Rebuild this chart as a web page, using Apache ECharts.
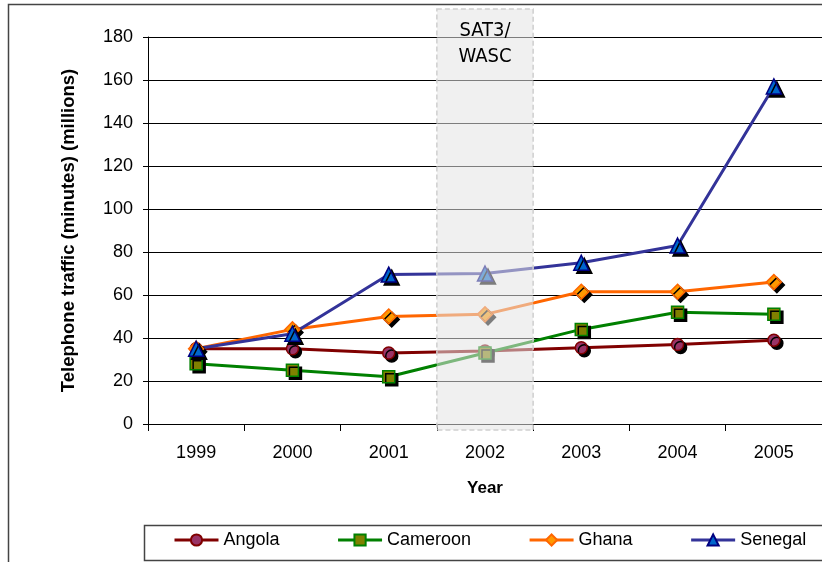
<!DOCTYPE html>
<html>
<head>
<meta charset="utf-8">
<script src="https://cdn.jsdelivr.net/npm/echarts@6/dist/echarts.min.js"></script>
<style>
  html, body { margin: 0; padding: 0; background: #fff; }
  #chart { width: 822px; height: 562px; }
</style>
</head>
<body>
<div id="chart"></div>
<script>
const years = ['1999', '2000', '2001', '2002', '2003', '2004', '2005']
const angola = [35, 35, 33, 34, 35.5, 37, 39]
const cameroon = [28, 25, 22, 33, 44, 52, 51]
const ghana = [35, 44, 50, 51, 61.5, 61.5, 66]
const senegal = [35, 42, 69.5, 70, 75, 83, 157]
const yTicks = { min: 0, max: 180, interval: 20 }
const bandYear = '2002'
const bandLabel = 'SAT3/\nWASC'

const font = "'Liberation Sans', Arial, sans-serif"
const markShadow = { shadowColor: '#000', shadowOffsetX: 3, shadowOffsetY: 3, shadowBlur: 0 }

const makeSeries = (name, data, symbol, size, lineColor, fill, border) => ({
  name,
  type: 'line',
  data,
  symbol,
  symbolSize: size,
  z: 3,
  lineStyle: { color: lineColor, width: 3 },
  itemStyle: { color: fill, borderColor: border, borderWidth: 1.5, ...markShadow },
  emphasis: { disabled: true }
})

const chart = echarts.init(document.getElementById('chart'))
chart.setOption({
  animation: false,
  backgroundColor: '#fff',
  graphic: [{
    // outer frame
    type: 'rect',
    z: -10,
    shape: { x: 8.5, y: 4.5, width: 900, height: 700 },
    style: { fill: 'none', stroke: '#444', lineWidth: 1.5 }
  }, {
    // legend box
    type: 'rect',
    z: -5,
    shape: { x: 144.5, y: 525.5, width: 700, height: 35 },
    style: { fill: '#fff', stroke: '#444', lineWidth: 1.5 }
  }],
  grid: { left: 148, right: -2, top: 37, bottom: 138 },
  legend: {
    data: ['Angola', 'Cameroon', 'Ghana', 'Senegal'],
    left: 173,
    top: 531,
    padding: 0,
    itemGap: 57,
    itemWidth: 44,
    itemHeight: 14,
    lineStyle: { width: 3 },
    itemStyle: { shadowColor: 'transparent' },
    textStyle: { fontFamily: font, fontSize: 18, color: '#000' }
  },
  xAxis: {
    type: 'category',
    data: years,
    boundaryGap: true,
    name: 'Year',
    nameLocation: 'middle',
    nameGap: 56,
    nameTextStyle: { fontFamily: font, fontSize: 17, fontWeight: 'bold', color: '#000' },
    axisLine: { lineStyle: { color: '#000', width: 1 } },
    axisTick: { show: true, length: 7, lineStyle: { color: '#000' } },
    axisLabel: { fontFamily: font, fontSize: 18, color: '#000', margin: 20 },
    splitLine: { show: false }
  },
  yAxis: {
    type: 'value',
    min: yTicks.min,
    max: yTicks.max,
    interval: yTicks.interval,
    name: 'Telephone traffic (minutes) (millions)',
    nameLocation: 'middle',
    nameGap: 70,
    nameTextStyle: { fontFamily: font, fontSize: 18.5, fontWeight: 'bold', color: '#000' },
    axisLine: { show: true, lineStyle: { color: '#000', width: 1 } },
    axisTick: { show: true, length: 5, lineStyle: { color: '#000' } },
    axisLabel: { fontFamily: font, fontSize: 18, color: '#000', margin: 15 },
    splitLine: { show: true, lineStyle: { color: '#000', width: 1 } }
  },
  series: [
    makeSeries('Angola', angola, 'circle', 12, '#800000', '#993366', '#800000'),
    makeSeries('Cameroon', cameroon, 'rect', 12, '#008000', '#808000', '#008000'),
    makeSeries('Ghana', ghana, 'diamond', 15, '#FF6600', '#FF9900', '#FF6600'),
    makeSeries('Senegal', senegal, 'triangle', 15, '#333399', '#0066CC', '#000080'),
    {
      name: 'band',
      type: 'custom',
      clip: false,
      z: 5,
      silent: true,
      data: [[years.indexOf(bandYear)]],
      renderItem: (params, api) => {
        const idx = api.value(0)
        const w = api.size([1, 0])[0]
        const cx = api.coord([idx, 0])[0]
        const bottom = api.coord([idx, yTicks.min])[1] + 6
        const top = api.coord([idx, yTicks.max])[1] - 28
        return {
          type: 'group',
          children: [{
            type: 'rect',
            shape: { x: cx - w / 2, y: top, width: w, height: bottom - top },
            style: {
              fill: 'rgba(228,228,228,0.55)',
              stroke: '#cfcfcf',
              lineWidth: 1.5,
              lineDash: [5, 3]
            }
          }, {
            type: 'text',
            style: {
              text: bandLabel,
              x: cx,
              y: top + 9,
              align: 'center',
              verticalAlign: 'top',
              fontFamily: "'Liberation Sans Narrow', 'DejaVu Sans Condensed', sans-serif",
              fontSize: 20,
              lineHeight: 26,
              fill: '#000'
            }
          }]
        }
      }
    }
  ]
})
</script>
</body>
</html>
